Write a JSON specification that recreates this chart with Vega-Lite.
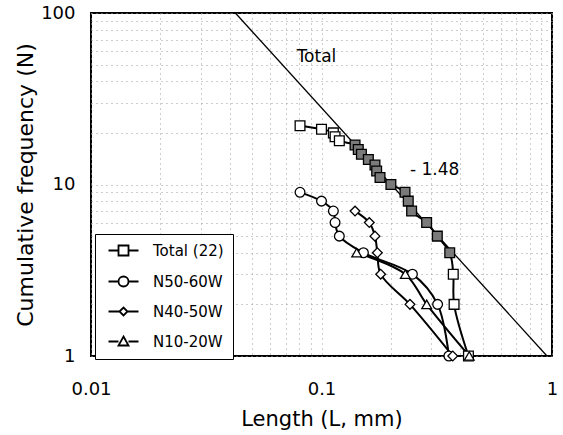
{
  "$schema": "https://vega.github.io/schema/vega-lite/v6.json",
  "width": 461,
  "height": 343,
  "autosize": {"type": "none"},
  "padding": {"left": 91, "top": 13, "right": 11, "bottom": 79},
  "background": "white",
  "config": {"view": {"stroke": "black", "strokeWidth": 2}, "font": "DejaVu Sans"},
  "datasets": {
    "pts": [
      {"series": "Total (22)", "N": 22, "L": 0.0807},
      {"series": "Total (22)", "N": 21, "L": 0.100},
      {"series": "Total (22)", "N": 20, "L": 0.1126},
      {"series": "Total (22)", "N": 19, "L": 0.1145},
      {"series": "Total (22)", "N": 18, "L": 0.1195},
      {"series": "Total (22)", "N": 17, "L": 0.1398},
      {"series": "Total (22)", "N": 16, "L": 0.1444},
      {"series": "Total (22)", "N": 15, "L": 0.149},
      {"series": "Total (22)", "N": 14, "L": 0.1597},
      {"series": "Total (22)", "N": 13, "L": 0.1706},
      {"series": "Total (22)", "N": 12, "L": 0.1735},
      {"series": "Total (22)", "N": 11, "L": 0.1794},
      {"series": "Total (22)", "N": 10, "L": 0.2},
      {"series": "Total (22)", "N": 9, "L": 0.2303},
      {"series": "Total (22)", "N": 8, "L": 0.2379},
      {"series": "Total (22)", "N": 7, "L": 0.246},
      {"series": "Total (22)", "N": 6, "L": 0.2858},
      {"series": "Total (22)", "N": 5, "L": 0.318},
      {"series": "Total (22)", "N": 4, "L": 0.36},
      {"series": "Total (22)", "N": 3, "L": 0.373},
      {"series": "Total (22)", "N": 2, "L": 0.376},
      {"series": "Total (22)", "N": 1, "L": 0.434},
      {"series": "N50-60W", "N": 9, "L": 0.0807},
      {"series": "N50-60W", "N": 8, "L": 0.100},
      {"series": "N50-60W", "N": 7, "L": 0.1126},
      {"series": "N50-60W", "N": 6, "L": 0.1145},
      {"series": "N50-60W", "N": 5, "L": 0.1195},
      {"series": "N50-60W", "N": 4, "L": 0.152},
      {"series": "N50-60W", "N": 3, "L": 0.248},
      {"series": "N50-60W", "N": 2, "L": 0.319},
      {"series": "N50-60W", "N": 1, "L": 0.357},
      {"series": "N40-50W", "N": 7, "L": 0.1398},
      {"series": "N40-50W", "N": 6, "L": 0.1612},
      {"series": "N40-50W", "N": 5, "L": 0.1706},
      {"series": "N40-50W", "N": 4, "L": 0.1747},
      {"series": "N40-50W", "N": 3, "L": 0.1806},
      {"series": "N40-50W", "N": 2, "L": 0.242},
      {"series": "N40-50W", "N": 1, "L": 0.371},
      {"series": "N10-20W", "N": 4, "L": 0.1421},
      {"series": "N10-20W", "N": 3, "L": 0.231},
      {"series": "N10-20W", "N": 2, "L": 0.286},
      {"series": "N10-20W", "N": 1, "L": 0.4375}
    ],
    "power": [
      {"L": 0.0423, "N": 100},
      {"L": 0.951, "N": 1}
    ],
    "notes": [
      {"L": 0.078, "N": 55.4, "text": "Total"},
      {"L": 0.242, "N": 12.15, "text": "- 1.48"}
    ]
  },
  "encoding": {
    "x": {
      "field": "L",
      "type": "quantitative",
      "scale": {"type": "log", "domain": [0.01, 1]},
      "title": "Length (L, mm)",
      "axis": {
        "values": [0.01, 0.02, 0.03, 0.04, 0.05, 0.06, 0.07, 0.08, 0.09, 0.1, 0.2, 0.3, 0.4, 0.5, 0.6, 0.7, 0.8, 0.9, 1],
        "labelExpr": "datum.value == 0.01 ? '0.01' : datum.value == 0.1 ? '0.1' : datum.value == 1 ? '1' : ''",
        "grid": true,
        "gridDash": [1, 4],
        "gridColor": "#9a9a9a",
        "gridWidth": 1,
        "ticks": false,
        "tickSize": 0,
        "domain": false,
        "labelFlush": false,
        "labelOverlap": false,
        "labelFontSize": 18,
        "labelColor": "black",
        "labelPadding": 24,
        "titleFontSize": 21,
        "titleFontWeight": "normal",
        "titleColor": "black",
        "titlePadding": 10
      }
    },
    "y": {
      "field": "N",
      "type": "quantitative",
      "scale": {"type": "log", "domain": [1, 100]},
      "title": "Cumulative frequency (N)",
      "axis": {
        "values": [1, 2, 3, 4, 5, 6, 7, 8, 9, 10, 20, 30, 40, 50, 60, 70, 80, 90, 100],
        "labelExpr": "datum.value == 1 ? '1' : datum.value == 10 ? '10' : datum.value == 100 ? '100' : ''",
        "grid": true,
        "gridDash": [1, 4],
        "gridColor": "#9a9a9a",
        "gridWidth": 1,
        "ticks": false,
        "tickSize": 0,
        "domain": false,
        "labelFlush": false,
        "labelOverlap": false,
        "labelFontSize": 18,
        "labelColor": "black",
        "labelPadding": 16,
        "titleFontSize": 22,
        "titleFontWeight": "normal",
        "titleColor": "black",
        "titlePadding": 3
      }
    }
  },
  "layer": [
    {
      "data": {"name": "pts"},
      "mark": {"type": "line", "interpolate": "catmull-rom", "color": "black", "strokeWidth": 2},
      "encoding": {
        "detail": {"field": "series"},
        "order": {"field": "N", "sort": "descending"}
      }
    },
    {
      "data": {"name": "power"},
      "mark": {"type": "line", "color": "black", "strokeWidth": 1.3},
      "encoding": {}
    },
    {
      "data": {"name": "pts"},
      "mark": {"type": "point", "filled": true, "stroke": "black", "strokeWidth": 1.3, "opacity": 1, "size": 95},
      "encoding": {
        "shape": {
          "condition": [
            {"test": "datum.series == 'N50-60W'", "value": "circle"},
            {"test": "datum.series == 'N40-50W'", "value": "diamond"},
            {"test": "datum.series == 'N10-20W'", "value": "triangle-up"}
          ],
          "value": "square"
        },
        "fill": {
          "condition": {"test": "datum.series == 'Total (22)' && datum.N >= 4 && datum.N <= 17", "value": "#7a7a7a"},
          "value": "white"
        }
      }
    },
    {
      "data": {"name": "pts"},
      "mark": {"type": "point", "filled": true, "fill": "white", "stroke": "black", "strokeWidth": 1.8, "opacity": 1, "size": 0},
      "encoding": {
        "shape": {
          "field": "series",
          "scale": {
            "domain": ["Total (22)", "N50-60W", "N40-50W", "N10-20W"],
            "range": [
              "M-3,0H-1M1,0H3M-1,-1H1V1H-1Z",
              "M-3,0H-1M1,0H3M-1,0A1,1 0 1,0 1,0A1,1 0 1,0 -1,0Z",
              "M-3,0H-0.8M0.8,0H3M-0.8,0L0,-0.8L0.8,0L0,0.8Z",
              "M-3,0H-1M1,0H3M0,-1L1,0.8H-1Z"
            ]
          },
          "legend": {
            "orient": "none",
            "legendX": 4,
            "legendY": 221,
            "title": null,
            "strokeColor": "black",
            "fillColor": "white",
            "padding": 9,
            "rowPadding": 12,
            "labelFontSize": 15,
            "labelFont": "DejaVu Sans",
            "labelColor": "black",
            "symbolSize": 100,
            "symbolOffset": 12,
            "labelOffset": 22,
            "symbolStrokeWidth": 1.8
          }
        }
      }
    },
    {
      "data": {"name": "notes"},
      "mark": {"type": "text", "align": "left", "baseline": "middle", "fontSize": 17, "font": "DejaVu Sans", "color": "black"},
      "encoding": {"text": {"field": "text"}}
    }
  ]
}
